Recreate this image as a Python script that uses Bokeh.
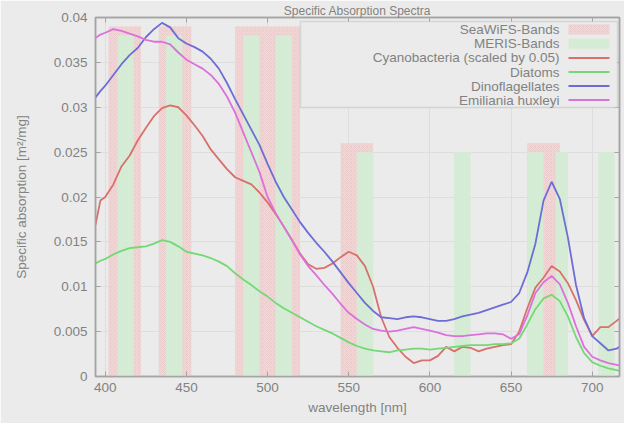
from bokeh.plotting import figure
from bokeh.models import (ColumnDataSource, LinearAxis, FixedTicker, CustomJSTickFormatter,
                          Range1d, BoxAnnotation, Label)
from bokeh.embed import file_html
from bokeh.resources import INLINE

# ---------------- data ----------------
wavelength = [394, 397, 400, 405, 410, 415, 420, 425, 430, 435, 440,
              445, 450, 455, 460, 465, 470, 475, 480, 485, 490,
              495, 500, 505, 510, 515, 520, 525, 530, 535, 540,
              545, 550, 555, 560, 565, 570, 575, 580, 585, 590,
              595, 600, 605, 610, 615, 620, 625, 630, 635, 640,
              645, 650, 655, 660, 665, 670, 675, 680, 685, 690,
              695, 700, 705, 710, 715, 720]

cyanobacteria = [0.0169, 0.0196, 0.0200, 0.0214, 0.0234, 0.0246, 0.0263, 0.0277, 0.0290, 0.0299, 0.0302,
                 0.0300, 0.0291, 0.0280, 0.0268, 0.0253, 0.0242, 0.0231, 0.0222, 0.0218, 0.0214,
                 0.0205, 0.0194, 0.0181, 0.0167, 0.0152, 0.0137, 0.0125, 0.0120, 0.0121, 0.0126,
                 0.0133, 0.0139, 0.0135, 0.0123, 0.0100, 0.0066, 0.0044, 0.0032, 0.0022, 0.0015,
                 0.0018, 0.0018, 0.0023, 0.0033, 0.0028, 0.0033, 0.0032, 0.0028, 0.0031, 0.0033,
                 0.0035, 0.0036, 0.0050, 0.0076, 0.0099, 0.0110, 0.0123, 0.0117, 0.0104, 0.0085,
                 0.0063, 0.0045, 0.0055, 0.0055, 0.0062, 0.0069]

diatoms = [0.0126, 0.0129, 0.0131, 0.0136, 0.0140, 0.0143, 0.0144, 0.0145, 0.0148, 0.0152, 0.0150,
           0.0145, 0.0139, 0.0137, 0.0135, 0.0132, 0.0128, 0.0123, 0.0115, 0.0108, 0.0102,
           0.0095, 0.0089, 0.0082, 0.0076, 0.0071, 0.0066, 0.0061, 0.0056, 0.0052, 0.0048,
           0.0043, 0.0038, 0.0034, 0.0031, 0.0029, 0.0028, 0.0027, 0.0029, 0.0030, 0.0031,
           0.0031, 0.0030, 0.0031, 0.0032, 0.0033, 0.0034, 0.0035, 0.0035, 0.0035, 0.0036,
           0.0036, 0.0037, 0.0042, 0.0058, 0.0075, 0.0087, 0.0091, 0.0084, 0.0067, 0.0044,
           0.0026, 0.0016, 0.0012, 0.0009, 0.0007, 0.0005]

dinoflagellates = [0.0311, 0.0318, 0.0324, 0.0336, 0.0348, 0.0358, 0.0366, 0.0378, 0.0387, 0.0394, 0.0389,
                   0.0377, 0.0371, 0.0367, 0.0362, 0.0354, 0.0343, 0.0327, 0.0309, 0.0292, 0.0275,
                   0.0258, 0.0237, 0.0217, 0.0200, 0.0186, 0.0172, 0.0160, 0.0149, 0.0139, 0.0128,
                   0.0116, 0.0104, 0.0093, 0.0082, 0.0073, 0.0066, 0.0065, 0.0064, 0.0066, 0.0067,
                   0.0066, 0.0064, 0.0062, 0.0062, 0.0064, 0.0067, 0.0069, 0.0071, 0.0074, 0.0077,
                   0.0080, 0.0083, 0.0093, 0.0116, 0.0148, 0.0196, 0.0217, 0.0198, 0.0155, 0.0102,
                   0.0065, 0.0045, 0.0037, 0.0029, 0.0031, 0.0037]

emiliania = [0.0377, 0.0381, 0.0383, 0.0387, 0.0385, 0.0382, 0.0379, 0.0375, 0.0373, 0.0373, 0.0370,
             0.0361, 0.0353, 0.0348, 0.0343, 0.0336, 0.0326, 0.0312, 0.0294, 0.0272, 0.0250,
             0.0228, 0.0200, 0.0182, 0.0167, 0.0152, 0.0136, 0.0123, 0.0113, 0.0102, 0.0092,
             0.0081, 0.0071, 0.0064, 0.0058, 0.0053, 0.0051, 0.0050, 0.0051, 0.0053, 0.0055,
             0.0053, 0.0051, 0.0049, 0.0046, 0.0045, 0.0045, 0.0046, 0.0047, 0.0048, 0.0048,
             0.0047, 0.0042, 0.0047, 0.0068, 0.0093, 0.0105, 0.0112, 0.0103, 0.0082, 0.0056,
             0.0033, 0.0022, 0.0018, 0.0015, 0.0013, 0.0011]

seawifs_center = [412, 443, 490, 510, 555, 670]
seawifs_width = [20, 20, 20, 20, 20, 20]
seawifs_height = [0.039, 0.039, 0.039, 0.039, 0.026, 0.026]

meris_center = [412.5, 442.5, 490, 510, 560, 620, 665, 681.25, 708.75]
meris_width = [10, 10, 10, 10, 10, 10, 10, 7.5, 10]
meris_height = [0.038, 0.038, 0.038, 0.038, 0.025, 0.025, 0.025, 0.025, 0.025]

x_ticks = [400, 450, 500, 550, 600, 650, 700]
y_ticks = [0, 0.005, 0.01, 0.015, 0.02, 0.025, 0.03, 0.035, 0.04]
y_tick_labels = ["0", "0.005", "0.01", "0.015", "0.02", "0.025", "0.03", "0.035", "0.04"]

series_names = ["Cyanobacteria (scaled by 0.05)", "Diatoms", "Dinoflagellates", "Emiliania huxleyi"]
band_names = ["SeaWiFS-Bands", "MERIS-Bands"]
title_text = "Specific Absorption Spectra"

# ---------------- styles ----------------
BG = "#ebebeb"
AX = "#a4a4a4"
TXT = "#828282"
FONT = "Liberation Sans"
FS = "13.5px"
line_colors = ["#d9706c", "#74d874", "#6d6dd6", "#dc70dc"]
band_fill = ["#f0d6d6", "#d8edd8"]
band_hatch = ["#e2b4b4", "#c2e2c2"]

W, H = 624, 423
X0, X1 = 394.0, 716.8
Y0, Y1 = 0.0, 0.04
FL, FT, FR, FB = 95, 17, 5, 47   # frame borders in px (top is set by the title panel)
FW = W - FL - FR
FH = H - FT - FB


def dx(px):  # figure px from left -> data x
    return X0 + (px - FL) * (X1 - X0) / FW


def dy(py):  # figure px from top -> data y
    return Y1 - (py - FT) * (Y1 - Y0) / FH


p = figure(width=W, height=H, output_backend="svg", toolbar_location=None,
           x_range=Range1d(X0, X1), y_range=Range1d(Y0, Y1),
           min_border_left=FL, min_border_top=0, min_border_right=FR, min_border_bottom=FB,
           background_fill_color=BG, border_fill_color=BG)
p.outline_line_color = AX
p.outline_line_width = 1.5

# bands
sw = ColumnDataSource(dict(left=[c - w / 2 for c, w in zip(seawifs_center, seawifs_width)],
                           right=[c + w / 2 for c, w in zip(seawifs_center, seawifs_width)],
                           top=seawifs_height, bottom=[0] * len(seawifs_center)))
me = ColumnDataSource(dict(left=[c - w / 2 for c, w in zip(meris_center, meris_width)],
                           right=[c + w / 2 for c, w in zip(meris_center, meris_width)],
                           top=meris_height, bottom=[0] * len(meris_center)))
for src, fc, hc in ((sw, band_fill[0], band_hatch[0]), (me, band_fill[1], band_hatch[1])):
    p.quad(left="left", right="right", top="top", bottom="bottom", source=src,
           fill_color=fc, line_color=None, hatch_pattern="x", hatch_color=hc,
           hatch_scale=4, hatch_weight=0.6, hatch_alpha=0.5)

# curves
for ys, c in zip([cyanobacteria, diatoms, dinoflagellates, emiliania], line_colors):
    p.line(wavelength, ys, line_color=c, line_width=1.8)

# axes
p.xaxis.ticker = FixedTicker(ticks=x_ticks)
p.yaxis.ticker = FixedTicker(ticks=y_ticks)
p.yaxis.formatter = CustomJSTickFormatter(
    args=dict(tvals=y_ticks, tlabs=y_tick_labels),
    code="const i = tvals.findIndex(t => Math.abs(t - tick) < 1e-9); return i >= 0 ? tlabs[i] : '';")
p.xgrid.ticker = FixedTicker(ticks=x_ticks)
p.ygrid.ticker = FixedTicker(ticks=y_ticks)
p.grid.grid_line_color = "#dedede"
p.grid.grid_line_width = 1

p.xaxis.axis_label = "wavelength [nm]"
p.yaxis.axis_label = "Specific absorption [m²/mg]"
for ax in (p.xaxis[0], p.yaxis[0]):
    ax.axis_line_color = AX
    ax.axis_line_width = 1.5
    ax.major_tick_line_color = AX
    ax.major_tick_in = 5
    ax.major_tick_out = 0
    ax.minor_tick_line_color = None
    ax.major_label_text_font = FONT
    ax.major_label_text_font_size = FS
    ax.major_label_text_color = TXT
    ax.axis_label_text_font = FONT
    ax.axis_label_text_font_size = FS
    ax.axis_label_text_font_style = "normal"
    ax.axis_label_text_color = TXT
p.xaxis.major_label_standoff = 6
p.xaxis.axis_label_standoff = 5
p.yaxis.major_label_standoff = 8
p.yaxis.axis_label_standoff = 22

# mirrored tick marks on top and right (no labels); the top one carries the title
for loc in ("above", "right"):
    ax = LinearAxis(ticker=FixedTicker(ticks=x_ticks if loc == "above" else y_ticks),
                    formatter=CustomJSTickFormatter(code="return '';"))
    ax.axis_line_color = AX
    ax.axis_line_width = 1.5
    ax.major_tick_line_color = AX
    ax.major_tick_in = 5
    ax.major_tick_out = 0
    ax.minor_tick_line_color = None
    ax.major_label_text_font_size = "2px"
    ax.major_label_standoff = 0
    if loc == "above":
        ax.axis_label = title_text
        ax.axis_label_standoff = 0
        ax.axis_label_text_font = FONT
        ax.axis_label_text_font_size = "12px"
        ax.axis_label_text_font_style = "normal"
        ax.axis_label_text_color = TXT
    p.add_layout(ax, loc)

# legend (labels right-aligned, samples on the right)
p.add_layout(BoxAnnotation(left=dx(300), right=dx(617), top=dy(21), bottom=dy(107),
                           fill_color=BG, fill_alpha=1, line_color=AX, line_width=1.5))
rows = [29, 43.2, 57.4, 71.6, 85.6, 99.6]
TX, G0, G1 = 559, 568, 609
for i, name in enumerate(band_names):
    p.add_layout(BoxAnnotation(left=dx(G0), right=dx(G1), top=dy(rows[i] - 5), bottom=dy(rows[i] + 5),
                               fill_color=band_fill[i], fill_alpha=1, line_color=None,
                               hatch_pattern="x", hatch_color=band_hatch[i], hatch_scale=4,
                               hatch_weight=0.6, hatch_alpha=0.5))
    p.add_layout(Label(x=dx(TX), y=dy(rows[i]), text=name, text_align="right",
                       text_baseline="middle", text_font=FONT, text_font_size=FS,
                       text_color=TXT))
for j, name in enumerate(series_names):
    r = rows[j + 2]
    p.add_layout(BoxAnnotation(left=dx(G0), right=dx(G1), top=dy(r - 1), bottom=dy(r + 1),
                               fill_color=line_colors[j], fill_alpha=1, line_color=None))
    p.add_layout(Label(x=dx(TX), y=dy(r), text=name, text_align="right",
                       text_baseline="middle", text_font=FONT, text_font_size=FS,
                       text_color=TXT))

open("out.html", "w").write(file_html(p, INLINE))
